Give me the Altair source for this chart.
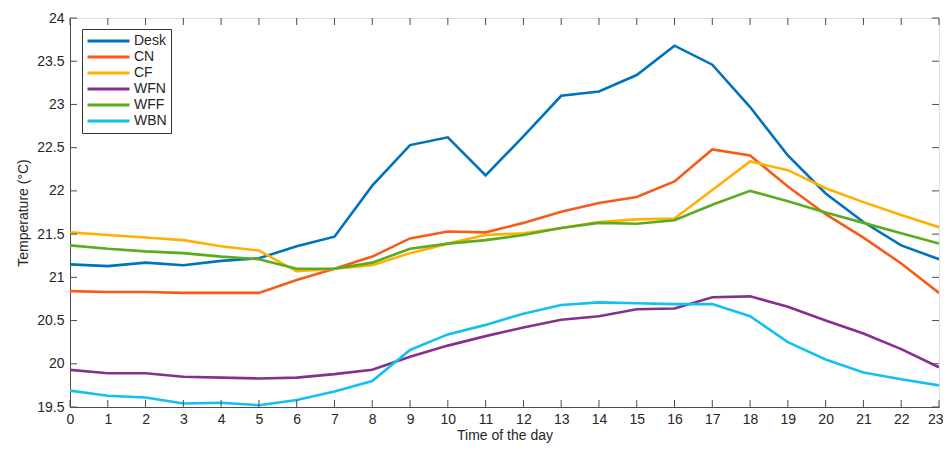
import altair as alt
import pandas as pd

hours = list(range(24))
series_names = ["Desk", "CN", "CF", "WFN", "WFF", "WBN"]
colors = ["#0072BD", "#F85A1C", "#FFB000", "#85308F", "#5AAB1E", "#14C0F0"]

desk = [21.15, 21.13, 21.17, 21.14, 21.19, 21.22, 21.36, 21.47, 22.06, 22.53, 22.62, 22.18,
        22.63, 23.10, 23.15, 23.34, 23.68, 23.46, 22.97, 22.41, 21.97, 21.64, 21.37, 21.21]
cn = [20.84, 20.83, 20.83, 20.82, 20.82, 20.82, 20.97, 21.10, 21.24, 21.45, 21.53, 21.52,
      21.63, 21.76, 21.86, 21.93, 22.11, 22.48, 22.41, 22.05, 21.73, 21.46, 21.16, 20.82]
cf = [21.52, 21.49, 21.46, 21.43, 21.36, 21.31, 21.07, 21.10, 21.14, 21.28, 21.39, 21.49,
      21.51, 21.57, 21.64, 21.67, 21.68, 22.01, 22.34, 22.24, 22.03, 21.87, 21.72, 21.58]
wfn = [19.93, 19.89, 19.89, 19.85, 19.84, 19.83, 19.84, 19.88, 19.93, 20.08, 20.21, 20.32,
       20.42, 20.51, 20.55, 20.63, 20.64, 20.77, 20.78, 20.66, 20.50, 20.35, 20.17, 19.96]
wff = [21.37, 21.33, 21.30, 21.28, 21.24, 21.21, 21.10, 21.10, 21.17, 21.33, 21.39, 21.43,
       21.49, 21.57, 21.63, 21.62, 21.66, 21.84, 22.00, 21.88, 21.75, 21.63, 21.51, 21.39]
wbn = [19.69, 19.63, 19.61, 19.54, 19.55, 19.52, 19.58, 19.68, 19.80, 20.16, 20.34, 20.45,
       20.58, 20.68, 20.71, 20.70, 20.69, 20.69, 20.55, 20.25, 20.05, 19.90, 19.82, 19.75]

y_ticks = [19.5, 20, 20.5, 21, 21.5, 22, 22.5, 23, 23.5, 24]
x_ticks = hours

all_series = [desk, cn, cf, wfn, wff, wbn]
rows = []
for name, vals in zip(series_names, all_series):
    for h, v in zip(hours, vals):
        rows.append({"hour": h, "temp": v, "series": name})
df = pd.DataFrame(rows)

W, H = 869, 389
AX = "#4D4D4D"
TXT = "#262626"
FONT = "Liberation Sans"

xs = alt.Scale(domain=[0, 23], nice=False, zero=False)
ys = alt.Scale(domain=[19.5, 24], nice=False, zero=False)

x_axis = alt.Axis(values=x_ticks, title="Time of the day", format="d",
                  grid=False, ticks=False, domainColor=AX, labelColor=TXT,
                  labelFont=FONT, labelFontSize=14, labelPadding=5,
                  labelOverlap=False, labelFlush=False,
                  labelAlign={"condition": {"test": "datum.value == 23", "value": "right"},
                              "value": "center"},
                  labelOffset={"condition": {"test": "datum.value == 23", "value": 4},
                               "value": 0},
                  titleFont=FONT, titleFontSize=14, titleFontWeight="normal",
                  titleColor=TXT, titlePadding=2)
y_axis = alt.Axis(values=y_ticks, title="Temperature (°C)", format=".3~g",
                  grid=False, ticks=False, domainColor=AX, labelColor=TXT,
                  labelFont=FONT, labelFontSize=14, labelPadding=6,
                  labelOverlap=False,
                  titleFont=FONT, titleFontSize=14, titleFontWeight="normal",
                  titleColor=TXT, titlePadding=6)

lines = alt.Chart(df).mark_line(strokeWidth=2.6, clip=True).encode(
    x=alt.X("hour:Q", scale=xs, axis=x_axis),
    y=alt.Y("temp:Q", scale=ys, axis=y_axis),
    color=alt.Color("series:N", scale=alt.Scale(domain=series_names, range=colors),
                    sort=series_names,
                    legend=alt.Legend(title=None, orient="none", legendX=12, legendY=11,
                                      symbolType="stroke", symbolSize=1764,
                                      symbolStrokeWidth=3, labelFont=FONT,
                                      labelFontSize=14, labelColor=TXT,
                                      labelOffset=3, rowPadding=0, clipHeight=16,
                                      strokeColor="#333333", fillColor="white",
                                      padding=4, cornerRadius=0)),
    order=alt.Order("hour:Q"),
)

xt = pd.DataFrame({"hour": x_ticks})
yt = pd.DataFrame({"temp": y_ticks})

xtick_bottom = alt.Chart(xt).mark_rule(color=AX, strokeWidth=1).encode(
    x=alt.X("hour:Q", scale=xs, axis=x_axis), y=alt.value(H), y2=alt.value(H - 7))
xtick_top = alt.Chart(xt).mark_rule(color=AX, strokeWidth=1).encode(
    x=alt.X("hour:Q", scale=xs, axis=x_axis), y=alt.value(0), y2=alt.value(7))
ytick_left = alt.Chart(yt).mark_rule(color=AX, strokeWidth=1).encode(
    y=alt.Y("temp:Q", scale=ys, axis=y_axis), x=alt.value(0), x2=alt.value(7))
ytick_right = alt.Chart(yt).mark_rule(color=AX, strokeWidth=1).encode(
    y=alt.Y("temp:Q", scale=ys, axis=y_axis), x=alt.value(W), x2=alt.value(W - 7))

chart = alt.layer(lines, xtick_bottom, xtick_top, ytick_left, ytick_right).properties(
    width=W, height=H,
    autosize=alt.AutoSizeParams(type="none"),
    padding={"left": 62, "top": 10, "right": 4, "bottom": 36},
).configure_view(stroke=AX, strokeWidth=1).configure(background="white")

chart.save("out.html", embed_options={"renderer": "svg", "actions": False})
